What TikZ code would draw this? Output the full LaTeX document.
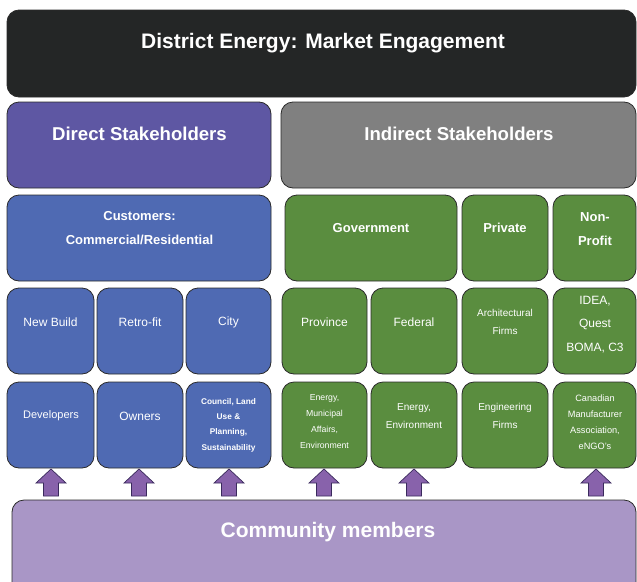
\documentclass[tikz,border=0pt]{standalone}
\usepackage{fontspec}
\setmainfont{Liberation Sans}
\definecolor{topc}{HTML}{242626}
\definecolor{directc}{HTML}{5E57A3}
\definecolor{indirc}{HTML}{808080}
\definecolor{bluec}{HTML}{4F6AB3}
\definecolor{greenc}{HTML}{5A8D3F}
\definecolor{commc}{HTML}{A996C6}
\definecolor{arrowc}{HTML}{8862AB}
\definecolor{arrowline}{HTML}{3A2A5C}
\definecolor{edgec}{HTML}{2A2A2A}
\newcommand{\bx}[6]{\node[box=#6, anchor=north west, minimum width={(#4-#2)*1pt}, minimum height={(#5-#3)*1pt}] (#1) at (#2,#3) {};}
\newcommand{\uparr}[2]{\draw[uparrow] (#2,469) -- (#2+15,483) -- (#2+7.5,483) -- (#2+7.5,496) -- (#2-7.5,496) -- (#2-7.5,483) -- (#2-15,483) -- cycle;
  \coordinate (#1) at (#2,469);}
\begin{document}
\begin{tikzpicture}[x=1pt,y=-1pt,
  box/.style={draw=edgec, line width=0.8pt, rounded corners=12pt, fill=#1, inner sep=0pt, outer sep=0pt},
  t/.style={text=white, align=center, inner sep=0pt},
  uparrow/.style={fill=arrowc, draw=arrowline, line width=0.7pt, line join=miter}]
\useasboundingbox (0,0) rectangle (637,581);
\clip (0,0) rectangle (637,581);
% boxes
\bx{top}{7}{10}{636}{97}{topc}
\bx{direct}{7}{102}{271}{188}{directc}
\bx{indirect}{281}{102}{636}{188}{indirc}
\bx{cust}{7}{195}{271}{281}{bluec}
\bx{gov}{285}{195}{457}{281}{greenc}
\bx{priv}{462}{195}{548}{281}{greenc}
\bx{nonp}{553}{195}{636}{281}{greenc}
\bx{newb}{7}{288}{94}{374}{bluec}
\bx{retro}{97}{288}{183}{374}{bluec}
\bx{city}{186}{288}{271}{374}{bluec}
\bx{prov}{282}{288}{367}{374}{greenc}
\bx{fed}{371}{288}{457}{374}{greenc}
\bx{arch}{462}{288}{548}{374}{greenc}
\bx{idea}{553}{288}{636}{374}{greenc}
\bx{dev}{7}{382}{94}{468}{bluec}
\bx{own}{97}{382}{183}{468}{bluec}
\bx{coun}{186}{382}{271}{468}{bluec}
\bx{provm}{282}{382}{367}{468}{greenc}
\bx{fede}{371}{382}{457}{468}{greenc}
\bx{eng}{462}{382}{548}{468}{greenc}
\bx{cana}{553}{382}{636}{468}{greenc}
\bx{comm}{12}{500}{636}{600}{commc}
% texts
\node[t, font=\fontsize{21}{24}\selectfont\bfseries] (topt) at (323,43) {District Energy: Market Engagement};
\node[t, font=\fontsize{18.6}{22}\selectfont\bfseries] (directt) at (139.5,134) {Direct Stakeholders};
\node[t, font=\fontsize{18.6}{22}\selectfont\bfseries] (indirectt) at (459,134) {Indirect Stakeholders};
\node[t, font=\fontsize{13}{24}\selectfont\bfseries] (custt) at (139.5,228) {Customers:\\Commercial/Residential};
\node[t, font=\fontsize{13}{24}\selectfont\bfseries] (govt) at (371,228) {Government};
\node[t, font=\fontsize{13}{24}\selectfont\bfseries] (privt) at (505,228) {Private};
\node[t, font=\fontsize{13}{24}\selectfont\bfseries] (nonpt) at (595,229) {Non-\\Profit};
\node[t, font=\fontsize{12}{23.5}\selectfont] (newbt) at (50.5,322) {New Build};
\node[t, font=\fontsize{12}{23.5}\selectfont] (retrot) at (140,322) {Retro-fit};
\node[t, font=\fontsize{12}{23.5}\selectfont] (cityt) at (228.5,322) {City};
\node[t, font=\fontsize{12}{23.5}\selectfont] (provt) at (324.5,322) {Province};
\node[t, font=\fontsize{12}{23.5}\selectfont] (fedt) at (414,322) {Federal};
\node[t, font=\fontsize{10}{18}\selectfont] (archt) at (505,322) {Architectural\\Firms};
\node[t, font=\fontsize{12}{23.5}\selectfont] (ideat) at (595,324.5) {IDEA,\\Quest\\BOMA, C3};
\node[t, font=\fontsize{11}{18}\selectfont] (devt) at (51,416) {Developers};
\node[t, font=\fontsize{12}{18}\selectfont] (ownt) at (140,416) {Owners};
\node[t, font=\fontsize{8.3}{15.3}\selectfont\bfseries] (count) at (228.5,425) {Council, Land\\Use \&\\Planning,\\Sustainability};
\node[t, font=\fontsize{8.7}{16}\selectfont] (provmt) at (324.5,422) {Energy,\\Municipal\\Affairs,\\Environment};
\node[t, font=\fontsize{10}{18}\selectfont] (fedet) at (414,416) {Energy,\\Environment};
\node[t, font=\fontsize{10}{18}\selectfont] (engt) at (505,416) {Engineering\\Firms};
\node[t, font=\fontsize{9.2}{16}\selectfont] (canat) at (595,422) {Canadian\\Manufacturer\\Association,\\eNGO's};
\node[t, font=\fontsize{21}{24}\selectfont\bfseries] (commt) at (328,532) {Community members};
% arrows
\uparr{a1}{51}
\uparr{a2}{139}
\uparr{a3}{229}
\uparr{a4}{324}
\uparr{a5}{414}
\uparr{a6}{596}
\end{tikzpicture}
\end{document}
